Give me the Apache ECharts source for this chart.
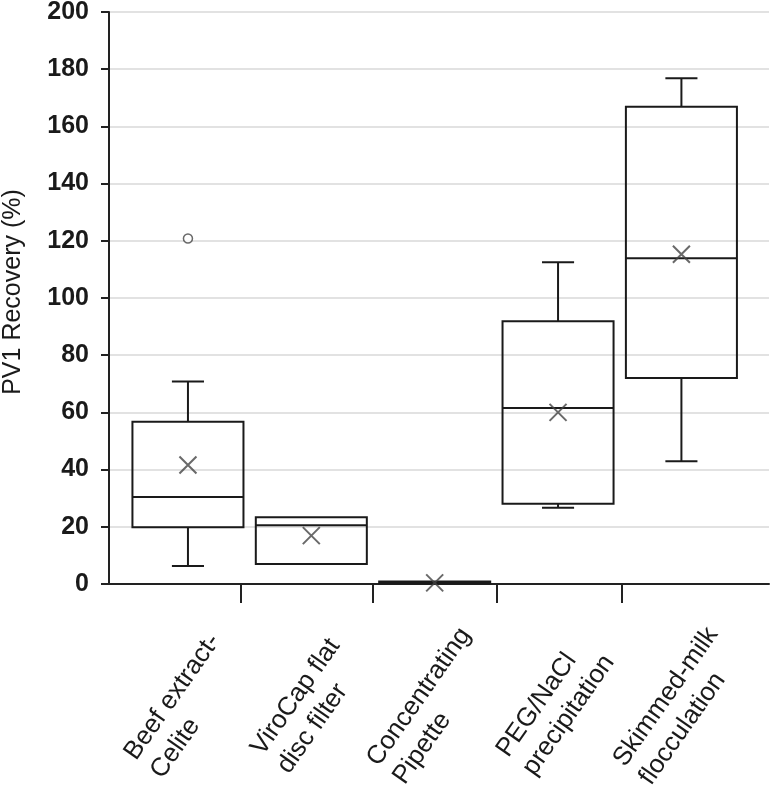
<!DOCTYPE html>
<html><head><meta charset="utf-8">
<script src="https://cdn.jsdelivr.net/npm/echarts@6/dist/echarts.min.js"></script>
<style>html,body{margin:0;padding:0;background:#fff}#c{width:774px;height:785px}</style>
</head><body><div id="c"></div>
<script>
// ---- data ----
const categories = ['Beef extract-\nCelite', 'ViroCap flat\ndisc filter', 'Concentrating\nPipette', 'PEG/NaCl\nprecipitation', 'Skimmed-milk\nflocculation'];
const mins    = [6.3, 7.0, 0.1, 26.7, 42.9];
const q1s     = [19.8, 7.0, 0.2, 28.1, 72.0];
const medians = [30.4, 20.5, 0.4, 61.5, 113.9];
const q3s     = [56.7, 23.3, 0.9, 91.9, 166.9];
const maxs    = [70.8, 23.3, 1.0, 112.5, 176.8];
const means   = [41.6, 16.9, 0.4, 60.0, 115.3];
const outlierCategory = [0];
const outlierValues = [120.8];
const yTicks = [0, 20, 40, 60, 80, 100, 120, 140, 160, 180, 200];
const xTickMarks = [1.43, 2.5, 3.5, 4.52];

// ---- build ----
const positions = categories.map((_, i) => i + 1);
const labelPositions = positions.map(p => p - 0.02);
const boxData = positions.map((p, i) => [p, mins[i], q1s[i], medians[i], q3s[i], maxs[i]]);
const meanData = positions.map((p, i) => [p, means[i]]);
const outlierData = outlierCategory.map((c, i) => [c + 1, outlierValues[i]]);

const TXT = '#1a1a1a';
const FONT = 'Liberation Sans';
const chart = echarts.init(document.getElementById('c'), null, {renderer: 'canvas'});

const option = {
  animation: false,
  backgroundColor: '#fff',
  grid: {left: 109, right: 5, top: 12, bottom: 201, containLabel: false, outerBoundsMode: 'none'},
  xAxis: {
    type: 'value', min: 0.36, max: 5.71,
    splitLine: {show: false},
    axisLine: {show: true, onZero: false, lineStyle: {color: '#222', width: 2}},
    axisTick: {show: true, customValues: xTickMarks, length: 19, lineStyle: {color: '#222', width: 2}},
    axisLabel: {
      customValues: labelPositions,
      formatter: v => {
        const idx = Math.round(v) - 1;
        return (categories[idx] || '').split('\n').map(s => '{l|' + s + '}').join('\n');
      },
      rotate: 55, align: 'center', verticalAlign: 'middle', margin: 122,
      rich: {l: {align: 'left', fontSize: 26, lineHeight: 32, color: TXT, fontFamily: FONT}}
    }
  },
  yAxis: {
    type: 'value', min: yTicks[0], max: yTicks[yTicks.length - 1], interval: yTicks[1] - yTicks[0],
    name: 'PV1 Recovery (%)', nameLocation: 'middle', nameGap: 83,
    nameTextStyle: {fontSize: 25, color: TXT, fontFamily: FONT, padding: [0, 0, 0, 12]},
    axisLine: {show: true, lineStyle: {color: '#222', width: 2}},
    axisTick: {show: true, length: 8, lineStyle: {color: '#222', width: 2}},
    axisLabel: {margin: 20, fontSize: 25, fontWeight: 'bold', color: TXT, fontFamily: FONT},
    splitLine: {show: true, lineStyle: {color: '#d9d9d9', width: 1.5}}
  },
  series: [
    {
      type: 'custom',
      name: 'box',
      data: boxData,
      encode: {x: 0, y: [1, 2, 3, 4, 5]},
      renderItem: (params, api) => {
        const x = api.value(0);
        const unit = api.size([1, 0])[0];
        const bw = unit * 0.9, cw = unit * 0.26;
        const pLo = api.coord([x, api.value(1)]);
        const pQ1 = api.coord([x, api.value(2)]);
        const pMd = api.coord([x, api.value(3)]);
        const pQ3 = api.coord([x, api.value(4)]);
        const pHi = api.coord([x, api.value(5)]);
        const cx = pQ1[0];
        const st = {stroke: '#1a1a1a', lineWidth: 2, fill: null};
        const children = [];
        if (pHi[1] < pQ3[1] - 0.5) {
          children.push({type: 'line', shape: {x1: cx, y1: pQ3[1], x2: cx, y2: pHi[1]}, style: st});
          children.push({type: 'line', shape: {x1: cx - cw / 2, y1: pHi[1], x2: cx + cw / 2, y2: pHi[1]}, style: st});
        }
        if (pLo[1] > pQ1[1] + 0.5) {
          children.push({type: 'line', shape: {x1: cx, y1: pQ1[1], x2: cx, y2: pLo[1]}, style: st});
          children.push({type: 'line', shape: {x1: cx - cw / 2, y1: pLo[1], x2: cx + cw / 2, y2: pLo[1]}, style: st});
        }
        children.push({type: 'rect', shape: {x: cx - bw / 2, y: pQ3[1], width: bw, height: pQ1[1] - pQ3[1]}, style: st});
        children.push({type: 'line', shape: {x1: cx - bw / 2, y1: pMd[1], x2: cx + bw / 2, y2: pMd[1]}, style: st});
        return {type: 'group', children};
      },
      z: 3
    },
    {
      type: 'scatter', name: 'mean', data: meanData,
      symbol: 'path://M0,0L10,10M10,0L0,10', symbolSize: 17,
      itemStyle: {color: 'transparent', borderColor: '#444', borderWidth: 2},
      z: 4
    },
    {
      type: 'scatter', name: 'outlier', data: outlierData,
      symbol: 'circle', symbolSize: 9,
      itemStyle: {color: '#fff', borderColor: '#444', borderWidth: 1.5},
      z: 4
    }
  ]
};
chart.setOption(option);
</script>
</body></html>
